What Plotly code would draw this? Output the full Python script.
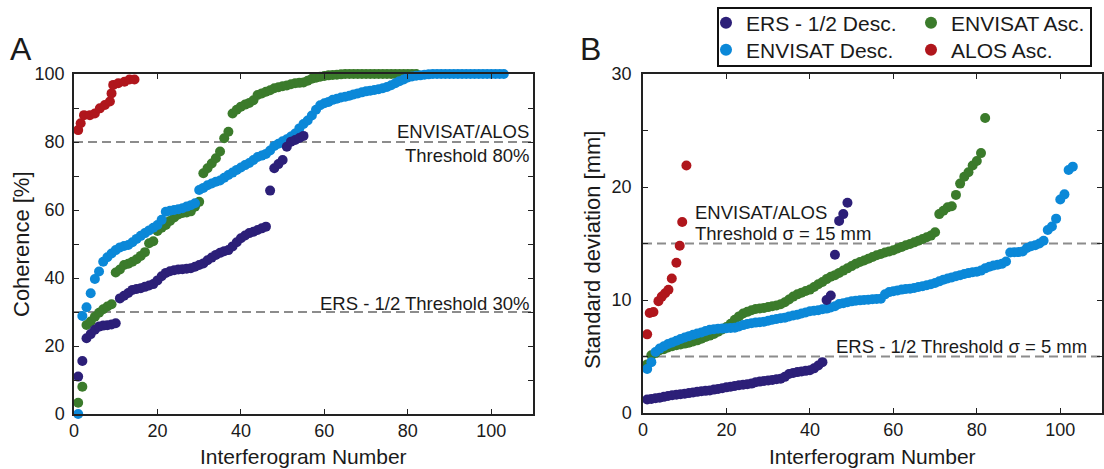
import plotly.graph_objects as go

# ---------------- data ----------------
# Panel A: coherence [%], sorted per series (x = interferogram number)
ers_coh = [11, 15.6, 22.3, 23.5, 24.8, 25.7, 26, 26.1, 26.3, 26.7,
           34, 34.8, 35.6, 36.5, 36.8, 37, 37.4, 37.8, 38.2, 39.3,
           40.5, 41.5, 42, 42.3, 42.5, 42.6, 42.7, 42.9, 43.3, 43.8,
           44.3, 45.2, 46, 46.8, 47.4, 47.9, 48.2, 49.3, 50.5, 51.7,
           52.5, 53.2, 53.6, 54.1, 54.6, 55.1, 65.7, 72.3, 73.5, 74.7,
           78.6, 80.1, 80.6, 81.2, 81.8]
envA_coh = [3.3, 8.0, 26.2, 27.2, 28.6, 29.8, 30.8, 31.6, 32.3, 41.6,
            42.5, 43.8, 44.2, 44.8, 45.5, 46.5, 47.6, 50.2, 50.8, 53.8,
            54.8, 55.6, 56.8, 57.8, 58.7, 59.1, 59.3, 59.6, 61, 62.4,
            70.8, 72.3, 73.7, 75.2, 77.2, 81.1, 83.0, 88.4, 89.5, 90.4,
            91.0, 91.5, 92.3, 93.8, 94.3, 94.8, 95.2, 95.8, 96.1, 96.4,
            96.6, 97, 97.3, 97.4, 97.5, 98, 98.6, 98.9, 99.2, 99.4,
            99.6, 99.7, 99.8, 99.9, 100, 100, 100, 100, 100, 100,
            100, 100, 100, 100, 100, 100, 100, 100, 100, 100,
            100, 100]
envD_coh = [0, 28.8, 31.4, 35.5, 39.7, 41.9, 44.8, 46.1, 47.2, 48.2,
            49, 49.4, 49.7, 50.5, 51.5, 52.4, 53.2, 54, 54.8, 55.6,
            57.1, 59.5, 59.8, 60, 60.2, 60.5, 61, 61.4, 62, 65.9,
            66.5, 67.3, 67.8, 68.3, 68.7, 69.5, 70.3, 71, 71.8, 72.5,
            73.2, 73.8, 74.7, 75.6, 76, 76.5, 77.5, 78.8, 79.5, 80.2,
            80.8, 81.6, 82.5, 84, 85.3, 86.3, 87.8, 89.5, 90.8, 91.4,
            91.8, 92.4, 92.7, 93.1, 93.3, 93.6, 94, 94.3, 94.6, 94.9,
            95.1, 95.3, 95.5, 95.8, 96.2, 96.7, 97.3, 97.9, 98.4, 99.0,
            99.3, 99.5, 99.6, 99.8, 99.9, 100, 100, 100, 100, 100,
            100, 100, 100, 100, 100, 100, 100, 100, 100, 100,
            100, 100, 100]
alos_coh_x = [1, 1.6, 2.4, 3.8, 5, 6.2, 7.4, 8.6, 9, 9.4, 10.6, 12.1, 13.3, 14.5]
alos_coh = [83.5, 85.5, 87.9, 87.9, 88.4, 89.9, 90.9, 91.9, 94.3, 96.8,
            97.3, 97.7, 98.4, 98.4]

# Panel B: standard deviation [mm]
ers_std = [1.2, 1.25, 1.3, 1.36, 1.43, 1.5, 1.57, 1.62, 1.67, 1.71,
           1.76, 1.82, 1.87, 1.92, 1.96, 2.0, 2.07, 2.13, 2.2, 2.27,
           2.33, 2.4, 2.45, 2.5, 2.54, 2.6, 2.72, 2.78, 2.83, 2.88,
           2.93, 2.98, 3.03, 3.2, 3.45, 3.55, 3.62, 3.68, 3.73, 3.78,
           3.95, 4.2, 4.5, 10.0, 10.4, 14.0, 17.0, 17.6, 18.6]
envA_std = [4.3, 5.1, 5.3, 5.55, 5.65, 5.8, 5.9, 6.0, 6.07, 6.14,
            6.22, 6.32, 6.43, 6.58, 6.73, 6.85, 7.0, 7.2, 7.4, 7.6,
            7.9, 8.25, 8.55, 8.8, 8.95, 9.1, 9.2, 9.25, 9.3, 9.37,
            9.44, 9.52, 9.62, 9.8, 10.05, 10.3, 10.5, 10.65, 10.8, 10.92,
            11.15, 11.4, 11.6, 11.85, 12.05, 12.2, 12.4, 12.6, 12.8, 13.0,
            13.2, 13.36, 13.5, 13.65, 13.8, 13.96, 14.07, 14.2, 14.3, 14.4,
            14.55, 14.7, 14.84, 14.96, 15.1, 15.25, 15.4, 15.55, 15.7, 16.0,
            17.6, 17.9, 18.2, 18.3, 19.3, 20.3, 20.9, 21.3, 21.9, 22.3,
            23.0, 26.1]
envD_std = [3.9, 4.5, 5.4, 5.7, 5.9, 6.1, 6.25, 6.4, 6.55, 6.68,
            6.8, 6.92, 7.03, 7.13, 7.25, 7.36, 7.42, 7.45, 7.47, 7.5,
            7.52, 7.55, 7.65, 7.78, 7.88, 7.95, 8.0, 8.03, 8.07, 8.17,
            8.25, 8.32, 8.38, 8.44, 8.55, 8.63, 8.7, 8.8, 8.9, 9.0,
            9.05, 9.09, 9.18, 9.24, 9.33, 9.44, 9.65, 9.72, 9.8, 9.88,
            9.94, 9.97, 10.0, 10.03, 10.06, 10.09, 10.12, 10.5, 10.7, 10.78,
            10.85, 10.92, 10.97, 11.0, 11.07, 11.15, 11.22, 11.3, 11.4, 11.5,
            11.65, 11.8, 11.9, 12.0, 12.1, 12.2, 12.3, 12.38, 12.45, 12.5,
            12.6, 12.8, 12.95, 13.05, 13.12, 13.2, 13.4, 14.2, 14.22, 14.24,
            14.3, 14.6, 14.75, 14.85, 15.0, 15.25, 16.2, 16.5, 17.2, 18.9,
            19.35, 21.5, 21.8]
alos_std_x = [1, 1.6, 2.5, 3.7, 4.5, 5.3, 6.1, 6.9, 8, 8.8, 9.4, 10.4]
alos_std = [6.96, 8.85, 8.94, 9.9, 10.3, 10.6, 10.9, 11.9, 13.3, 14.8, 16.9, 21.9]

coh_thresholds = [80, 30]
std_thresholds = [15, 5]

series_names = ["ERS - 1/2 Desc.", "ENVISAT Asc.", "ENVISAT Desc.", "ALOS Asc."]
colors = {"ERS - 1/2 Desc.": "#2c1f78", "ENVISAT Asc.": "#3b7b2b",
          "ENVISAT Desc.": "#0b88d8", "ALOS Asc.": "#b0161c"}

# ---------------- figure ----------------
W, H = 1104, 469
FONT = "Liberation Sans, Arial, sans-serif"
TXT = "#1a1a1a"

def fx(p):
    return p / W

def fy(p):
    return 1 - p / H

fig = go.Figure()

def idx(vals):
    return list(range(1, len(vals) + 1))

legend_of = {"ERS - 1/2 Desc.": "legend", "ENVISAT Asc.": "legend2",
             "ENVISAT Desc.": "legend3", "ALOS Asc.": "legend4"}

panelA = {"ENVISAT Asc.": (idx(envA_coh), envA_coh),
          "ENVISAT Desc.": (idx(envD_coh), envD_coh),
          "ERS - 1/2 Desc.": (idx(ers_coh), ers_coh),
          "ALOS Asc.": (alos_coh_x, alos_coh)}
panelB = {"ENVISAT Asc.": (idx(envA_std), envA_std),
          "ENVISAT Desc.": (idx(envD_std), envD_std),
          "ERS - 1/2 Desc.": (idx(ers_std), ers_std),
          "ALOS Asc.": (alos_std_x, alos_std)}

for name, (xs, ys) in panelA.items():
    fig.add_trace(go.Scatter(x=xs, y=ys, mode="markers", name=name,
                             marker=dict(size=10, color=colors[name]),
                             legend=legend_of[name], showlegend=True,
                             cliponaxis=False, xaxis="x", yaxis="y"))
for name, (xs, ys) in panelB.items():
    fig.add_trace(go.Scatter(x=xs, y=ys, mode="markers", name=name,
                             marker=dict(size=10, color=colors[name]),
                             showlegend=False, cliponaxis=False,
                             xaxis="x2", yaxis="y2"))

# threshold lines
for t in coh_thresholds:
    fig.add_shape(type="line", xref="x", yref="y", x0=0, x1=110, y0=t, y1=t,
                  line=dict(color="#8c8c8c", width=2, dash="9px,5px"), layer="below")
for t in std_thresholds:
    fig.add_shape(type="line", xref="x2", yref="y2", x0=0, x1=110, y0=t, y1=t,
                  line=dict(color="#8c8c8c", width=2, dash="9px,5px"), layer="below")

axis_common = dict(showline=True, linecolor="#222", linewidth=1.5, mirror="ticks",
                   ticks="inside", ticklen=5, tickwidth=1.2, tickcolor="#222",
                   showgrid=False, zeroline=False, automargin=False,
                   tickfont=dict(family=FONT, size=18, color=TXT))

fig.update_layout(
    width=W, height=H, margin=dict(l=0, r=0, t=0, b=0, autoexpand=False),
    paper_bgcolor="white", plot_bgcolor="white",
    font=dict(family=FONT, color=TXT),
    xaxis=dict(domain=[fx(74), fx(533)], range=[0, 110], tick0=0, dtick=20,
               anchor="y", ticklabelstandoff=0, **axis_common),
    yaxis=dict(domain=[fy(414), fy(74)], range=[0, 100], tick0=0, dtick=20,
               anchor="x", ticklabelstandoff=4,
               minor=dict(dtick=10, ticks="inside", ticklen=5, tickcolor="#222"),
               **axis_common),
    xaxis2=dict(domain=[fx(643), fx(1102)], range=[0, 110], tick0=0, dtick=20,
                anchor="y2", ticklabelstandoff=0, **axis_common),
    yaxis2=dict(domain=[fy(413), fy(74)], range=[0, 30], tick0=0, dtick=10,
                anchor="x2", ticklabelstandoff=6,
                minor=dict(dtick=5, ticks="inside", ticklen=5, tickcolor="#222"),
                **axis_common),
)

# legends (one per entry, laid out in 2x2 grid inside a framed box)
leg_pos = {"legend": (746, 23), "legend2": (951, 23),
           "legend3": (746, 50), "legend4": (951, 50)}
for key, (tx, ty) in leg_pos.items():
    fig.update_layout({key: dict(x=fx(tx - 40), y=fy(ty), xanchor="left", yanchor="middle",
                                 bgcolor="rgba(0,0,0,0)", borderwidth=0,
                                 font=dict(family=FONT, size=21, color=TXT),
                                 itemsizing="constant")})
fig.add_shape(type="rect", xref="paper", yref="paper",
              x0=fx(718), x1=fx(1091), y0=fy(66), y1=fy(8),
              line=dict(color="#111", width=2), fillcolor="rgba(0,0,0,0)")

def ann(text, x, y, xanchor="center", size=18.5, angle=0):
    fig.add_annotation(text=text, x=fx(x), y=fy(y), xref="paper", yref="paper",
                       xanchor=xanchor, yanchor="middle", showarrow=False,
                       textangle=angle, font=dict(family=FONT, size=size, color=TXT))

# panel labels
ann("A", 21, 49, size=32)
ann("B", 590, 49, size=32)
# axis titles
ann("Coherence [%]", 21, 244, size=22, angle=-90)
ann("Standard deviation [mm]", 592, 250, size=22, angle=-90)
ann("Interferogram Number", 303, 456, size=21)
ann("Interferogram Number", 872, 456, size=21)
# threshold labels
ann("ENVISAT/ALOS", 531, 131, xanchor="right")
ann("Threshold 80%", 531, 155, xanchor="right")
ann("ERS - 1/2 Threshold 30%", 531, 303, xanchor="right")
ann("ENVISAT/ALOS", 693, 212, xanchor="left")
ann("Threshold σ = 15 mm", 693, 233, xanchor="left")
ann("ERS - 1/2 Threshold σ = 5 mm", 1089, 346, xanchor="right")

fig.write_html("out.html")
